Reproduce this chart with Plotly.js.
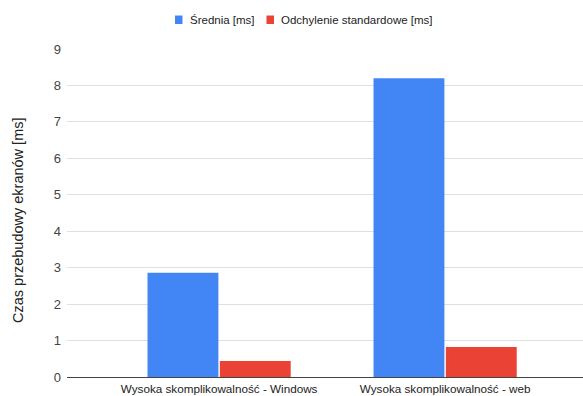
<!DOCTYPE html>
<html>
<head>
<meta charset="utf-8">
<script src="https://cdn.plot.ly/plotly-3.0.1.min.js"></script>
<style>html,body{margin:0;padding:0;background:#fff;}#chart{width:583px;height:396px;}</style>
</head>
<body>
<div id="chart"></div>
<script>
const categories = ["Wysoka skomplikowalność - Windows", "Wysoka skomplikowalność - web"];
const seriesNames = ["Średnia [ms]", "Odchylenie standardowe [ms]"];
const seriesColors = ["#4285f4", "#ea4335"];
const meanValues = [2.86, 8.2];
const stdValues = [0.44, 0.82];
const yTicks = [0, 1, 2, 3, 4, 5, 6, 7, 8, 9];
const yTitle = "Czas przebudowy ekranów [ms]";

const font = "Arial, 'Liberation Sans', sans-serif";

const traces = [
  {type: "bar", name: seriesNames[0], x: categories, y: meanValues, marker: {color: seriesColors[0]}},
  {type: "bar", name: seriesNames[1], x: categories, y: stdValues, marker: {color: seriesColors[1]}}
];

// plot area in pixels: x 67..583, y 49..377
const L = 67, W = 516, T = 49, H = 328;
const px = v => (v - L) / W;
const py = v => (T + H - v) / H;

const legendSquares = [[175, 182.5], [266.5, 274]];
const legendTextX = [187.5, 279];

const shapes = legendSquares.map((s, i) => ({
  type: "rect", xref: "paper", yref: "paper",
  x0: px(s[0]), x1: px(s[1]), y0: py(24), y1: py(15.5),
  fillcolor: seriesColors[i], line: {width: 0}
}));

const annotations = seriesNames.map((n, i) => ({
  text: n, xref: "paper", yref: "paper", x: px(legendTextX[i]), y: py(20),
  xanchor: "left", yanchor: "middle", showarrow: false,
  font: {family: font, size: 11.5, color: "#222"}
}));
annotations.push({
  text: yTitle, xref: "paper", yref: "paper", x: px(18), y: py(220),
  xanchor: "center", yanchor: "middle", showarrow: false, textangle: -90,
  font: {family: font, size: 14.5, color: "#222"}
});

const layout = {
  width: 583, height: 396,
  margin: {l: L, r: 0, t: T, b: 396 - T - H, pad: 0},
  paper_bgcolor: "#fff", plot_bgcolor: "#fff",
  font: {family: font, size: 12, color: "#444"},
  barmode: "group", bargap: 0.36, bargroupgap: 0.02,
  showlegend: false,
  shapes: shapes,
  annotations: annotations,
  xaxis: {type: "category", range: [-0.673, 1.61], showgrid: false, zeroline: false,
          showline: false, ticks: "", ticklabelstandoff: 3,
          tickfont: {family: font, size: 11.7, color: "#222"}},
  yaxis: {range: [0, 9], tickvals: yTicks, ticktext: yTicks.map(String), showgrid: true,
          gridcolor: "#e0e0e0", gridwidth: 1, zeroline: true, zerolinecolor: "#444", zerolinewidth: 1,
          ticks: "", ticklabelstandoff: 5, tickfont: {family: font, size: 13, color: "#444"}}
};

Plotly.newPlot("chart", traces, layout, {displayModeBar: false, staticPlot: true});
</script>
</body>
</html>
